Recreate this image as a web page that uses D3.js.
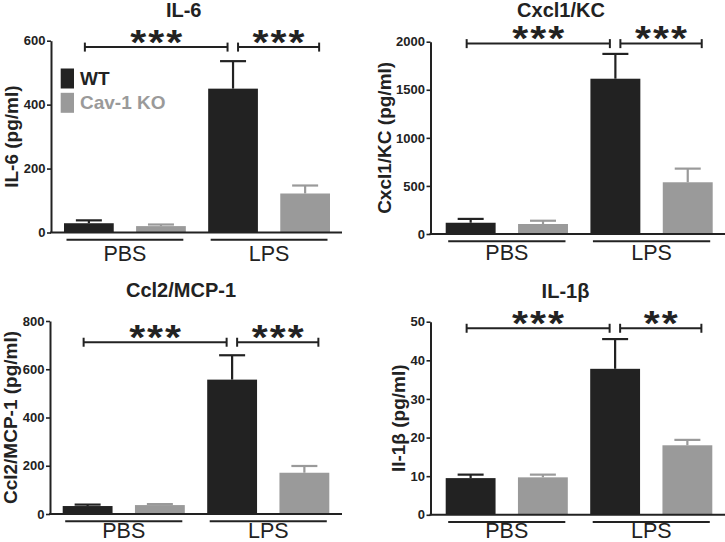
<!DOCTYPE html>
<html><head><meta charset="utf-8">
<script src="https://cdn.jsdelivr.net/npm/d3@7"></script>
<style>
body{margin:0;background:#fff}
svg{display:block}
text{font-family:"Liberation Sans",Arial,Helvetica,sans-serif;fill:#222}
</style>
</head><body>
<svg id="chart" width="725" height="542"></svg>
<script>
// ---------- data ----------
const categories = ["PBS", "LPS"];
const series = ["WT", "Cav-1 KO"];
const titles = ["IL-6", "Cxcl1/KC", "Ccl2/MCP-1", "IL-1β"];
const yLabels = ["IL-6 (pg/ml)", "Cxcl1/KC (pg/ml)", "Ccl2/MCP-1 (pg/ml)", "Il-1β (pg/ml)"];

const il6WT = [29, 450],   il6WTErr = [9, 86],    il6KO = [20, 122],   il6KOErr = [5, 25];
const cxcl1WT = [117, 1615], cxcl1WTErr = [40, 258], cxcl1KO = [104, 538], cxcl1KOErr = [34, 142];
const ccl2WT = [33, 557],  ccl2WTErr = [6, 101],  ccl2KO = [37, 171],  ccl2KOErr = [4, 28];
const il1bWT = [9.5, 37.8], il1bWTErr = [0.9, 7.7], il1bKO = [9.7, 18.0], il1bKOErr = [0.7, 1.4];

const il6Ticks = [0, 200, 400, 600];
const cxcl1Ticks = [0, 500, 1000, 1500, 2000];
const ccl2Ticks = [0, 200, 400, 600, 800];
const il1bTicks = [0, 10, 20, 30, 40, 50];

const il6Sig = ["***", "***"];
const cxcl1Sig = ["***", "***"];
const ccl2Sig = ["***", "***"];
const il1bSig = ["***", "**"];
const sigLevels = [580, 1980, 712, 48.3];

// ---------- styles / layout ----------
const colors = {"WT": "#222222", "Cav-1 KO": "#9a9a9a"};
const ink = "#222222";
const font = '"Liberation Sans",Arial,Helvetica,sans-serif';

const panels = [
  {wt: il6WT, wtE: il6WTErr, ko: il6KO, koE: il6KOErr, ticks: il6Ticks, sig: il6Sig,
   ax: 51, end: 342, top: 40.7, base: 232.5, bs: 64, be: 330, titleX: 183.7, titleY: 17, labX: 11.5, catY: 260.5, legend: true},
  {wt: cxcl1WT, wtE: cxcl1WTErr, ko: cxcl1KO, koE: cxcl1KOErr, ticks: cxcl1Ticks, sig: cxcl1Sig,
   ax: 430.5, end: 725, top: 41.7, base: 234, bs: 445.7, be: 712.7, titleX: 561, titleY: 17, labX: 384.7, catY: 260},
  {wt: ccl2WT, wtE: ccl2WTErr, ko: ccl2KO, koE: ccl2KOErr, ticks: ccl2Ticks, sig: ccl2Sig,
   ax: 50, end: 342, top: 321, base: 514, bs: 62.7, be: 329.3, titleX: 181, titleY: 297, labX: 10, catY: 537.5},
  {wt: il1bWT, wtE: il1bWTErr, ko: il1bKO, koE: il1bKOErr, ticks: il1bTicks, sig: il1bSig,
   ax: 430.5, end: 725, top: 321.7, base: 514.8, bs: 445.7, be: 712.3, titleX: 565.5, titleY: 298, labX: 398.7, catY: 537.5}
];

// asterisk glyph metrics (measured, so stars can be sized to the reference)
const ctx = document.createElement("canvas").getContext("2d");
ctx.font = 'bold 100px "Liberation Sans"';
const sm = ctx.measureText("*");
const starInkW = sm.actualBoundingBoxLeft + sm.actualBoundingBoxRight;
const starInkH = sm.actualBoundingBoxAscent + sm.actualBoundingBoxDescent;
const starTargetW = 16, starTargetH = 13.5, starPitch = 18;
const starFs = 100 * starTargetW / starInkW;
const starK = starFs / 100;
const starSy = starTargetH / (starInkH * starK);

const svg = d3.select("#chart");

panels.forEach((p, i) => {
  const g = svg.append("g");
  const yMax = p.ticks[p.ticks.length - 1];
  const y = d3.scaleLinear().domain([0, yMax]).range([p.base, p.top]);
  const keys = [];
  categories.forEach(c => series.forEach(s => keys.push(c + "|" + s)));
  const x = d3.scaleBand().domain(keys).range([p.bs, p.be]).paddingInner(0.31).paddingOuter(0);
  const bw = x.bandwidth();

  const rows = [];
  categories.forEach((c, ci) => {
    rows.push({cat: c, s: "WT", v: p.wt[ci], e: p.wtE[ci]});
    rows.push({cat: c, s: "Cav-1 KO", v: p.ko[ci], e: p.koE[ci]});
  });

  // error bars (upper only)
  rows.forEach(r => {
    const cx = x(r.cat + "|" + r.s) + bw / 2;
    g.append("line").attr("x1", cx).attr("x2", cx)
      .attr("y1", y(r.v)).attr("y2", y(r.v + r.e))
      .attr("stroke", colors[r.s]).attr("stroke-width", 2.2);
    g.append("line").attr("x1", cx - 13).attr("x2", cx + 13)
      .attr("y1", y(r.v + r.e)).attr("y2", y(r.v + r.e))
      .attr("stroke", colors[r.s]).attr("stroke-width", 2.2);
  });

  // bars
  g.selectAll("rect.bar").data(rows).enter().append("rect")
    .attr("x", d => x(d.cat + "|" + d.s))
    .attr("width", bw)
    .attr("y", d => y(d.v))
    .attr("height", d => p.base - y(d.v))
    .attr("fill", d => colors[d.s]);

  // y axis
  const axis = d3.axisLeft(y).tickValues(p.ticks).tickFormat(d3.format("d"))
    .tickSizeInner(4).tickSizeOuter(0).tickPadding(1.5);
  const ag = g.append("g").attr("transform", `translate(${p.ax},0)`).call(axis);
  ag.select(".domain").attr("stroke", ink).attr("stroke-width", 2);
  ag.selectAll(".tick line").attr("stroke", ink).attr("stroke-width", 1.6);
  ag.selectAll(".tick text").attr("font-size", 13).attr("font-weight", "bold")
    .attr("font-family", font).attr("fill", ink);

  // x baseline
  g.append("line").attr("x1", p.ax - 1).attr("x2", p.end).attr("y1", p.base).attr("y2", p.base)
    .attr("stroke", ink).attr("stroke-width", 2);

  // category underlines and labels
  categories.forEach(c => {
    const x1 = x(c + "|WT") + 2.5, x2 = x(c + "|Cav-1 KO") + bw - 2.5;
    g.append("line").attr("x1", x1).attr("x2", x2).attr("y1", p.base + 7.3).attr("y2", p.base + 7.3)
      .attr("stroke", ink).attr("stroke-width", 2);
    g.append("text").attr("x", (x1 + x2) / 2).attr("y", p.catY).attr("text-anchor", "middle")
      .attr("font-size", 21.5).text(c);
  });

  // significance brackets
  const cPW = x("PBS|WT") + bw / 2, cLW = x("LPS|WT") + bw / 2, cLK = x("LPS|Cav-1 KO") + bw / 2;
  const by = y(sigLevels[i]);
  const brackets = [[cPW - 4, cLW - 5.5, p.sig[0]], [cLW + 5, cLK + 14, p.sig[1]]];
  brackets.forEach(([a, b, s]) => {
    g.append("line").attr("x1", a).attr("x2", b).attr("y1", by).attr("y2", by).attr("stroke", ink).attr("stroke-width", 2);
    [a, b].forEach(xx => g.append("line").attr("x1", xx).attr("x2", xx).attr("y1", by - 4.5).attr("y2", by + 4.5)
      .attr("stroke", ink).attr("stroke-width", 2));
    const mid = (a + b) / 2, n = s.length;
    const sg = g.append("text").attr("font-size", starFs).attr("font-weight", "bold")
      .attr("transform", `translate(0,${by - 4.5}) scale(1,${starSy})`);
    for (let k = 0; k < n; k++) {
      const cx = mid + (k - (n - 1) / 2) * starPitch;
      sg.append("tspan")
        .attr("x", cx - (sm.actualBoundingBoxRight - sm.actualBoundingBoxLeft) / 2 * starK)
        .attr("y", -sm.actualBoundingBoxDescent * starK)
        .text("*");
    }
  });

  // title
  g.append("text").attr("x", p.titleX).attr("y", p.titleY).attr("text-anchor", "middle")
    .attr("font-size", 20).attr("font-weight", "bold").text(titles[i]);

  // y label
  g.append("text").attr("transform", `translate(${p.labX},${(p.top + p.base) / 2}) rotate(-90)`)
    .attr("text-anchor", "middle").attr("dy", "0.35em")
    .attr("font-size", 19).attr("font-weight", "bold").text(yLabels[i]);

  // legend
  if (p.legend) {
    const lg = g.append("g");
    series.forEach((s, si) => {
      const ly = [68.5, 92.8][si];
      lg.append("rect").attr("x", 60.7).attr("y", ly).attr("width", 13.3).attr("height", 20).attr("fill", colors[s]);
      lg.append("text").attr("x", 80).attr("y", ly + 16.5).attr("font-size", 19).attr("font-weight", "bold")
        .style("fill", si === 0 ? ink : colors[s]).text(s);
    });
  }
});
</script>
</body></html>
